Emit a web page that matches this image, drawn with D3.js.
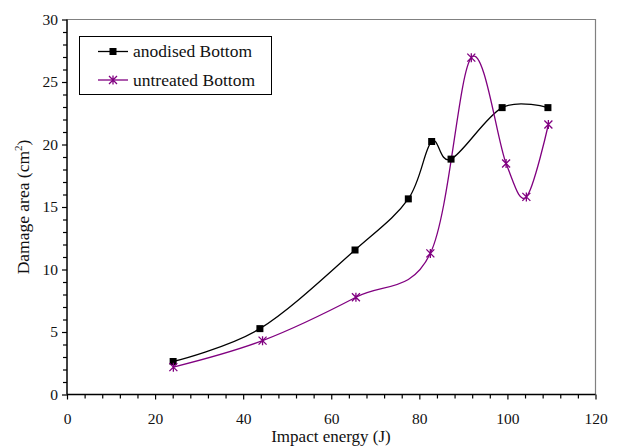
<!DOCTYPE html>
<html>
<head>
<meta charset="utf-8">
<script src="https://cdn.jsdelivr.net/npm/d3@7"></script>
<style>
  html, body { margin: 0; padding: 0; background: #fff; }
  svg { display: block; font-family: "Liberation Serif", "DejaVu Serif", serif; }
</style>
</head>
<body>
<svg id="chart" width="619" height="448"></svg>
<script>
// Impact energy (J) vs. damage area (cm²)
const anodisedEnergy = [24.1, 43.8, 65.4, 77.5, 82.8, 87.2, 98.8, 109.2];
const anodisedArea   = [2.64, 5.27, 11.56, 15.65, 20.24, 18.83, 22.95, 22.95];
const untreatedEnergy = [24.15, 44.4, 65.6, 82.5, 91.8, 99.7, 104.3, 109.3];
const untreatedArea   = [2.19, 4.31, 7.78, 11.29, 26.95, 18.48, 15.81, 21.6];
const seriesNames = ["anodised Bottom", "untreated Bottom"];
const xTicks = [0, 20, 40, 60, 80, 100, 120];
const yTicks = [0, 5, 10, 15, 20, 25, 30];

const svg = d3.select("#chart");
const margin = { left: 67, right: 23.5, top: 19.5, bottom: 53.5 };
const W = 619, H = 448;
const x = d3.scaleLinear().domain([0, 120]).range([margin.left, W - margin.right]);
const y = d3.scaleLinear().domain([0, 30]).range([H - margin.bottom, margin.top]);

// plot frame: grey top/right
svg.append("path")
  .attr("d", `M${x(0)},${y(30)}H${x(120)}V${y(0)}`)
  .attr("fill", "none").attr("stroke", "#808080").attr("stroke-width", 1.2);

// y axis
const yMinor = d3.range(0, 31, 1).filter(v => v % 5 !== 0);
const yAxis = svg.append("g").attr("transform", `translate(${x(0)},0)`);
yAxis.call(d3.axisLeft(y).tickValues(yMinor).tickSize(4).tickFormat(""));
yAxis.call(g => g.select(".domain").remove());
const yMaj = svg.append("g").attr("transform", `translate(${x(0)},0)`)
  .call(d3.axisLeft(y).tickValues(yTicks).tickSize(5).tickPadding(4).tickFormat(d3.format("d")));
yMaj.select(".domain").attr("stroke-width", 1.5).attr("d", `M0,${y(0)}V${y(30)}`);

// x axis
const xMinor = d3.range(0, 121, 4).filter(v => v % 20 !== 0);
const xAxis = svg.append("g").attr("transform", `translate(0,${y(0)})`);
xAxis.call(d3.axisBottom(x).tickValues(xMinor).tickSize(4).tickFormat(""));
xAxis.call(g => g.select(".domain").remove());
const xMaj = svg.append("g").attr("transform", `translate(0,${y(0)})`)
  .call(d3.axisBottom(x).tickValues(xTicks).tickSize(5).tickPadding(13).tickFormat(d3.format("d")));
xMaj.select(".domain").attr("stroke-width", 1.5).attr("d", `M${x(0)},0H${x(120)}`);

svg.selectAll(".tick line").attr("stroke", "#000").attr("stroke-width", 1.2);
svg.selectAll(".tick text").attr("font-size", 15.5).attr("fill", "#111")
  .attr("font-family", "Liberation Serif, serif");

// axis titles
svg.append("text").attr("x", 331).attr("y", 442).attr("text-anchor", "middle")
  .attr("font-size", 17).attr("fill", "#111").text("Impact energy (J)");
const yt = svg.append("text").attr("transform", "translate(29,207) rotate(-90)")
  .attr("text-anchor", "middle").attr("font-size", 17.5).attr("fill", "#111");
yt.append("tspan").text("Damage area (cm");
yt.append("tspan").attr("font-size", 11).attr("dy", -7).text("2");
yt.append("tspan").attr("dy", 7).text(")");

// smoothed series lines
const line = d3.line().x(d => x(d[0])).y(d => y(d[1])).curve(d3.curveCardinal.tension(0));
const anodised = anodisedEnergy.map((e, i) => [e, anodisedArea[i]]);
const untreated = untreatedEnergy.map((e, i) => [e, untreatedArea[i]]);

svg.append("path").datum(anodised).attr("d", line)
  .attr("fill", "none").attr("stroke", "#000").attr("stroke-width", 1.3);
svg.append("path").datum(untreated).attr("d", line)
  .attr("fill", "none").attr("stroke", "#800080").attr("stroke-width", 1.3);

// markers
function square(g, cx, cy) {
  g.append("rect").attr("x", cx - 3.5).attr("y", cy - 3.5).attr("width", 7).attr("height", 7)
    .attr("fill", "#000");
}
function star(g, cx, cy, color) {
  const r = 4;
  g.append("path")
    .attr("d", `M${cx - r},${cy - r}L${cx + r},${cy + r}M${cx - r},${cy + r}L${cx + r},${cy - r}M${cx},${cy - r - 0.5}V${cy + r + 0.5}`)
    .attr("stroke", color).attr("stroke-width", 1.3).attr("fill", "none");
}
const mk = svg.append("g");
anodised.forEach(d => square(mk, x(d[0]), y(d[1])));
untreated.forEach(d => star(mk, x(d[0]), y(d[1]), "#800080"));

// legend
const lg = svg.append("g");
lg.append("rect").attr("x", 79.5).attr("y", 36.5).attr("width", 192).attr("height", 58)
  .attr("fill", "#fff").attr("stroke", "#000").attr("stroke-width", 1);
const rows = [
  { name: seriesNames[0], color: "#000", y: 51.5, kind: "square" },
  { name: seriesNames[1], color: "#800080", y: 80, kind: "star" }
];
rows.forEach(r => {
  lg.append("line").attr("x1", 98).attr("x2", 128).attr("y1", r.y).attr("y2", r.y)
    .attr("stroke", r.color).attr("stroke-width", 1.3);
  if (r.kind === "square") square(lg, 113, r.y); else star(lg, 113, r.y, r.color);
  lg.append("text").attr("x", 133).attr("y", r.y + 5.5).attr("font-size", 17.5)
    .attr("fill", "#111").text(r.name);
});
</script>
</body>
</html>
